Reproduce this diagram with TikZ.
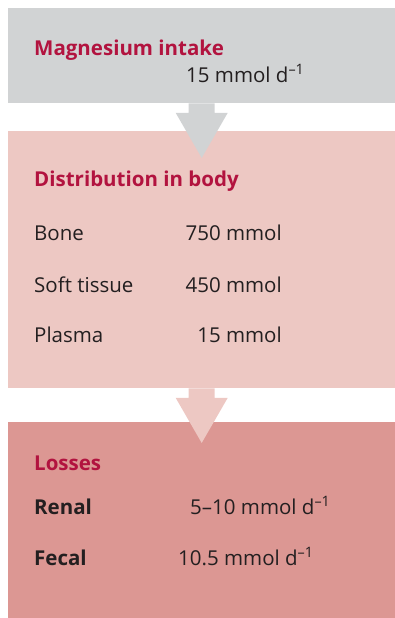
\documentclass[tikz,border=0pt]{standalone}
\usepackage{fontspec}
\setmainfont{Open Sans}
\usepackage{tikz}
\usetikzlibrary{calc}
\definecolor{mgred}{HTML}{B2133F}
\definecolor{mgtext}{HTML}{231F20}
\definecolor{mggray}{HTML}{D1D3D4}
\definecolor{mgpink}{HTML}{EDC8C3}
\definecolor{mgrose}{HTML}{DC9793}

\begin{document}
\begin{tikzpicture}[x=1pt, y=-1pt,
    panel/.style={rectangle, fill=#1, minimum width=387pt, inner sep=0pt, anchor=north west},
    heading/.style={anchor=base west, inner sep=0pt, text=mgred,
                    font=\fontsize{20.5}{24}\selectfont\bfseries},
    entry/.style={anchor=base west, inner sep=0pt, text=mgtext,
                  font=\fontsize{20.5}{24}\selectfont},
    label/.style={entry, font=\fontsize{20.5}{24}\selectfont\bfseries},
    amount/.style={entry, anchor=base east}
]
\useasboundingbox (0,0) rectangle (395,618);

\node[panel=mggray, minimum height=95pt]  (intake)  at (8,8)   {};
\node[panel=mgpink, minimum height=257pt] (distrib) at (8,131) {};
\node[panel=mgrose, minimum height=196pt] (losses)  at (8,422) {};

\foreach \src/\col in {intake/mggray, distrib/mgpink}
    \fill[\col] ($(\src.south)+(-13,0)$) -- ++(26,0) -- ++(0,9.5) -- ++(13,0)
        -- ++(-26,45) -- ++(-26,-45) -- ++(13,0) -- cycle;

\node[heading] (intakehead) at (34,56) {Magnesium intake};
\node[entry] (intakeval) at (186,82) {15 mmol d\textsuperscript{–1}};

\node[heading] (distribhead) at (34,186) {Distribution in body};
\node[entry] (bone)    at (34,240) {Bone};
\node[amount] (bonev)  at (282,240) {750 mmol};
\node[entry] (soft)    at (34,292) {Soft tissue};
\node[amount] (softv)  at (282,292) {450 mmol};
\node[entry] (plasma)  at (34,342) {Plasma};
\node[amount] (plasmav) at (282,342) {15 mmol};

\node[heading] (losshead) at (34,470) {Losses};
\node[label] (renal)  at (34,514) {Renal};
\node[entry] (renalv) at (190,514) {5–10 mmol d\textsuperscript{–1}};
\node[label] (fecal)  at (34,565) {Fecal};
\node[entry] (fecalv) at (178,565) {10.5 mmol d\textsuperscript{–1}};
\end{tikzpicture}
\end{document}
